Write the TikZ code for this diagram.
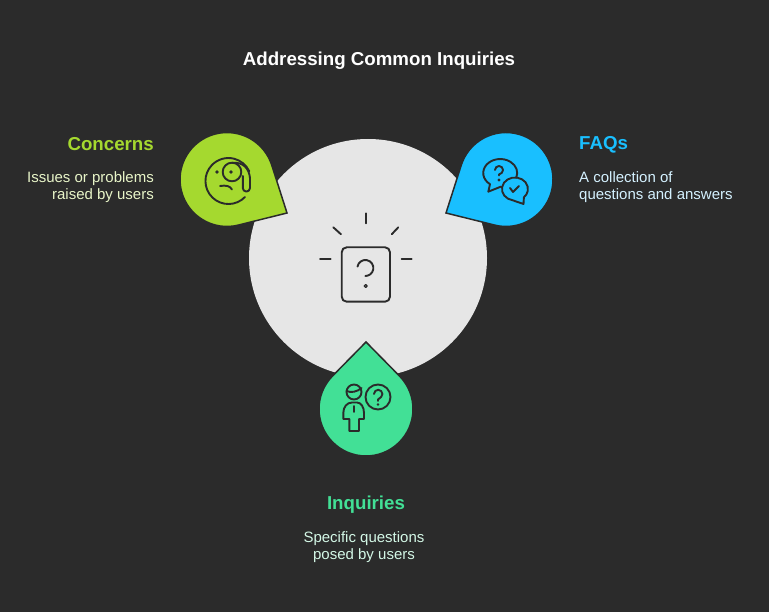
\documentclass[tikz,border=0pt]{standalone}
\usepackage{fontspec}
\setmainfont{Liberation Sans}
\definecolor{bgdark}{HTML}{2B2B2B}
\definecolor{bigdisc}{HTML}{E6E6E6}
\definecolor{limedrop}{HTML}{A5D92F}
\definecolor{bluedrop}{HTML}{19BFFF}
\definecolor{greendrop}{HTML}{42E096}
\definecolor{limetext}{HTML}{E8F5C8}
\definecolor{bluetext}{HTML}{D4F1FF}
\definecolor{greentext}{HTML}{D3F7E6}
\tikzset{
  icon/.style={draw=bgdark,line width=1.9pt,line cap=round,line join=round},
  edge/.style={draw=bgdark,line width=1.5pt,line join=miter},
  headtext/.style={font=\fontsize{18.7}{21}\selectfont\bfseries,inner sep=0pt},
  bodytext/.style={font=\fontsize{15}{17.5}\selectfont,inner sep=0pt}
}
\begin{document}
\begin{tikzpicture}[x=1pt,y=1pt,yscale=-1]
\fill[bgdark](0,0)rectangle(769,612);
\useasboundingbox(0,0)rectangle(769,612);
\fill[bigdisc](368,258)circle(119);

\node[headtext,white,anchor=center](title)at(379,61){Addressing Common Inquiries};

% drops
\filldraw[edge,fill=limedrop](287,213)--({227+47*cos(75.5)},{179.5+47*sin(75.5)})arc[start angle=75.5,end angle=343.5,radius=47]--cycle;
\filldraw[edge,fill=bluedrop](446,213)--({506+47*cos(196.5)},{179.5+47*sin(196.5)})arc[start angle=196.5,end angle=464.5,radius=47]--cycle;
\filldraw[edge,fill=greendrop](366,342)--({366+47*cos(-44)},{409+47*sin(-44)})arc[start angle=-44,end angle=224,radius=47]--cycle;

% centre icon
\draw[icon,rounded corners=5](341.7,247.3)rectangle(390,301.7);
\draw[icon](365.7,213.3)--(365.7,223.3);
\draw[icon](320,259)--(330.7,259);
\draw[icon](401.7,259)--(411.7,259);
\draw[icon](333.3,227.3)--(341,234.3);
\draw[icon](398.3,227.3)--(391.7,234.3);
\draw[icon](357.5,266.6)arc[start angle=190,end angle=450,radius=8];
\draw[icon,line width=1.3pt](365.7,286)circle(1.5);

% concerns icon
\draw[icon](245,197)arc[start angle=44,end angle=335,radius=23];
\draw[icon](232,172)circle(9.3);
\draw[icon](232,162.7)..controls(243,162)and(249,168)..(250,178)--(250,188)arc[start angle=0,end angle=180,radius=3.6]--(242.8,176);
\fill[bgdark](217,172)circle(1.8);
\fill[bgdark](231,172)circle(1.8);
\draw[icon](220,186)..controls(226,185)and(230,186)..(232,189.5);

% faqs icon
\draw[icon](501,186.6)--(488.3,191.7)--(490,184.2)arc[start angle=127,end angle=380,x radius=17,y radius=14];
\draw[icon](523.9,197.4)--(523.5,204)--(512.7,200.3)arc[start angle=100,end angle=407,x radius=13,y radius=11.5];
\draw[icon](495,170)arc[start angle=180,end angle=405,radius=4]--(499,174.5)--(499,175.5);
\fill[bgdark](499,180)circle(1.6);
\draw[icon](510,188)--(513,192)--(519,186);

% inquiries icon
\draw[icon](354,392)circle(7.5);
\draw[icon](346.5,391)..controls(351,393)and(357,392)..(361.5,388);
\draw[icon](343.3,419)--(343.3,413)..controls(343.3,407)and(347,402.5)..(352,402.5)--(357,402.5)..controls(361,402.5)and(364,407)..(364,413)--(364,419)--(359,419)--(359,431)--(349.3,431)--(349.3,419)--cycle;
\draw[icon](354,406)--(354,412);
\draw[icon](378,397)circle(12.5);
\draw[icon](374,394)arc[start angle=180,end angle=405,radius=4.2]--(378,399.5)--(378,401);
\fill[bgdark](378,404.5)circle(1.4);

% labels
\node[headtext,limedrop,anchor=east](concernshead)at(154,144.5){Concerns};
\node[bodytext,limetext,anchor=north east,align=right](concernsbody)at(154,171){Issues or problems\\raised by users};
\node[headtext,bluedrop,anchor=west](faqshead)at(579,145){FAQs};
\node[bodytext,bluetext,anchor=north west,align=left](faqsbody)at(579,171){A collection of\\questions and answers};
\node[headtext,greendrop,anchor=center](inquirieshead)at(366,505){Inquiries};
\node[bodytext,greentext,anchor=north,align=center](inquiriesbody)at(364,531){Specific questions\\posed by users};
\end{tikzpicture}
\end{document}
